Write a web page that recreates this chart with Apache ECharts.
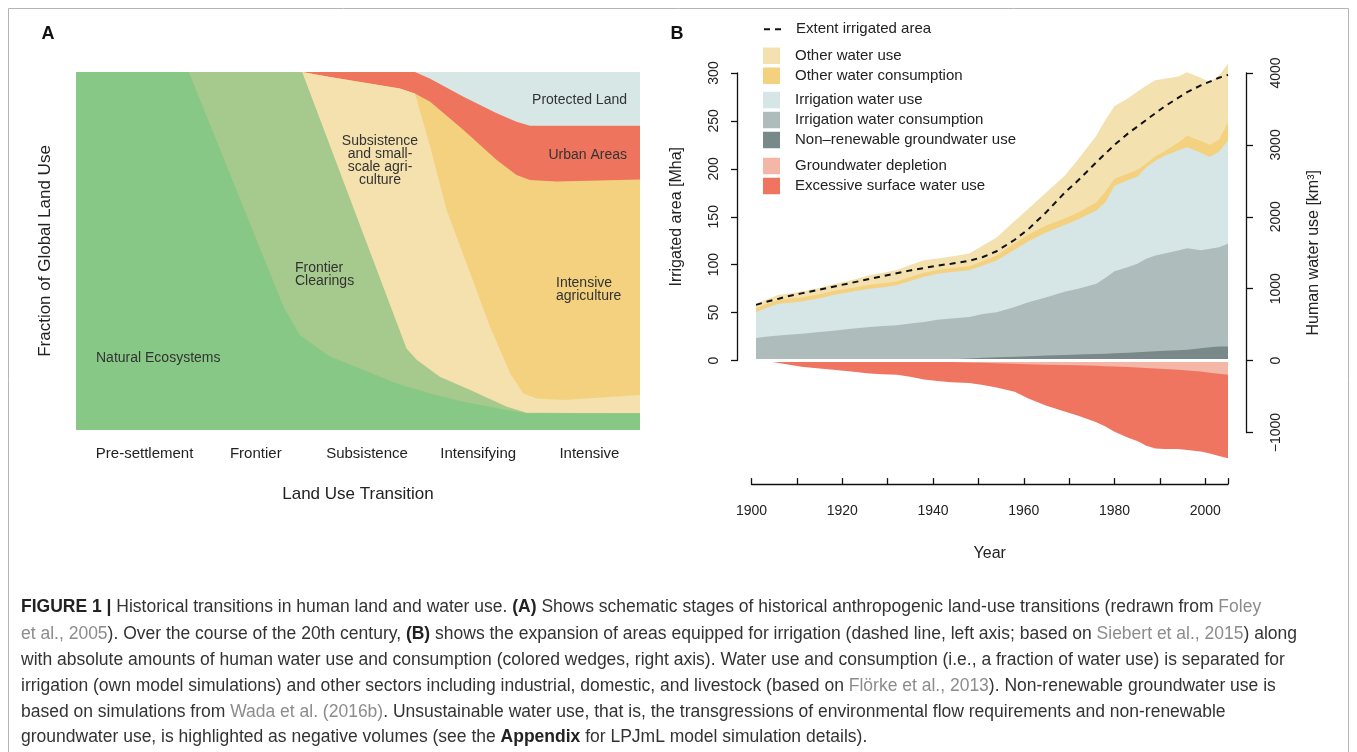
<!DOCTYPE html>
<html>
<head>
<meta charset="utf-8">
<title>Historical transitions in human land and water use</title>
<script src="https://cdn.jsdelivr.net/npm/echarts@6.0.0/dist/echarts.min.js"></script>
<style>
    html, body { margin: 0; padding: 0; background: #fff; }
    #chart { width: 1357px; height: 752px; }
</style>
</head>
<body>
<div id="chart"></div>
<script>
// Panel A: schematic land use stages (fraction of global land, top edge of each layer)
const STAGES = ['Pre-settlement', 'Frontier', 'Subsistence', 'Intensifying', 'Intensive'];
const PROTECTED_TOP = [[0, 1], [1, 1]];
const URBAN_TOP = [[0, 1], [0.601, 1], [0.628, 0.981], [0.687, 0.931], [0.746, 0.885], [0.781, 0.861], [0.805, 0.85], [1, 0.85]];
const INTENSIVE_TOP = [[0, 1], [0.401, 1], [0.45, 0.986], [0.574, 0.954], [0.601, 0.94], [0.628, 0.917], [0.687, 0.838], [0.746, 0.754], [0.781, 0.712], [0.805, 0.698], [0.852, 0.694], [1, 0.7]];
const SUBSISTENCE_TOP = [[0, 1], [0.401, 1], [0.45, 0.986], [0.574, 0.954], [0.601, 0.94], [0.628, 0.791], [0.657, 0.615], [0.699, 0.438], [0.734, 0.289], [0.77, 0.158], [0.793, 0.102], [0.817, 0.088], [0.864, 0.084], [1, 0.098]];
const FRONTIER_TOP = [[0, 1], [0.401, 1], [0.586, 0.228], [0.604, 0.196], [0.645, 0.149], [0.699, 0.112], [0.764, 0.065], [0.799, 0.048], [1, 0.047]];
const NATURAL_TOP = [[0, 1], [0.2, 1], [0.368, 0.344], [0.397, 0.265], [0.45, 0.205], [0.509, 0.168], [0.569, 0.13], [0.628, 0.102], [0.687, 0.079], [0.764, 0.056], [0.799, 0.047], [1, 0.047]];

// Panel B: years, irrigated area [Mha] and water use wedges [km3] (upper edge of each wedge)
const YEARS = [1901, 1903, 1906, 1908, 1911, 1915, 1918, 1922, 1926, 1929, 1932, 1935, 1938, 1941, 1944, 1948, 1951, 1954, 1958, 1961, 1965, 1969, 1972, 1976, 1978, 1980, 1983, 1985, 1987, 1989, 1991, 1994, 1996, 1999, 2001, 2003, 2005];
const IRRIGATED_AREA = [58, 61, 64.5, 67, 70, 74, 77, 81, 85, 88, 91, 94, 96.5, 99, 101, 104, 108, 114, 126, 137, 155, 175, 188, 207, 216, 225, 237, 244, 251, 258, 265, 274, 280, 287, 291, 295, 298];
const OTHER_USE = [788, 840, 913, 930, 960, 1010, 1060, 1115, 1185, 1220, 1260, 1330, 1395, 1420, 1445, 1490, 1600, 1710, 1940, 2110, 2340, 2570, 2800, 3130, 3350, 3540, 3650, 3740, 3825, 3900, 3920, 3950, 4010, 3935, 3870, 3960, 4130];
const OTHER_CONS = [727, 780, 843, 858, 875, 920, 965, 1010, 1055, 1075, 1100, 1160, 1220, 1260, 1288, 1310, 1385, 1460, 1630, 1750, 1880, 1975, 2060, 2200, 2350, 2530, 2600, 2650, 2740, 2840, 2910, 3030, 3125, 3055, 3000, 3070, 3310];
const IRRIG_USE = [672, 725, 788, 800, 820, 865, 910, 955, 998, 1020, 1045, 1105, 1165, 1205, 1232, 1255, 1321, 1390, 1540, 1660, 1785, 1885, 1965, 2086, 2200, 2430, 2510, 2555, 2690, 2780, 2850, 2920, 2965, 2890, 2830, 2905, 3060];
const IRRIG_CONS = [311, 330, 348, 358, 371, 395, 415, 440, 465, 478, 490, 513, 537, 565, 585, 605, 645, 672, 745, 810, 880, 955, 997, 1066, 1150, 1240, 1300, 1345, 1414, 1460, 1490, 1530, 1560, 1535, 1553, 1575, 1625];
const NONRENEW_GW = [0, 0, 1, 1, 2, 2, 3, 4, 5, 6, 7, 8, 10, 14, 18, 28, 38, 45, 52, 58, 68, 76, 82, 90, 95, 100, 108, 115, 122, 130, 135, 142, 150, 170, 185, 195, 195];
const EXCESS_SURFACE = [0, -3, -35, -55, -86, -110, -130, -155, -180, -190, -200, -225, -265, -285, -304, -315, -340, -375, -434, -530, -630, -710, -770, -860, -920, -990, -1075, -1120, -1185, -1225, -1231, -1232, -1245, -1268, -1295, -1330, -1360];
const GW_DEPLETION = [-6, -6, -6, -7, -7, -8, -9, -10, -11, -12, -13, -15, -17, -19, -22, -27, -33, -40, -47, -52, -58, -64, -68, -75, -80, -85, -92, -98, -105, -113, -120, -130, -140, -155, -170, -185, -200];

const FONT = 'Liberation Sans';
const TXT = '#222';

function pairs(values) {
    return YEARS.map((y, i) => [y, values[i]]);
}

// Filled layer for panel A
function landLayer(name, data, color) {
    return {
        name: name, type: 'line', xAxisIndex: 0, yAxisIndex: 0,
        data: data, symbol: 'none', silent: true,
        lineStyle: { width: 0 }, itemStyle: { color: color },
        areaStyle: { color: color, opacity: 1 }
    };
}

// Filled wedge for panel B (km3 axis)
function waterLayer(name, values, color) {
    return {
        name: name, type: 'line', xAxisIndex: 2, yAxisIndex: 2,
        data: pairs(values), symbol: 'none', silent: true,
        lineStyle: { width: 0 }, itemStyle: { color: color },
        areaStyle: { color: color, opacity: 1 }
    };
}

const COLORS = {
    otherUse: '#f4e1b0', otherCons: '#f3d17f', irrUse: '#d6e6e6', irrCons: '#aebdbc',
    nonRenew: '#79898a', depletion: '#f4b6a6', excess: '#ef7560'
};

function squareItem(name, color) {
    return { name: name, icon: 'rect', itemStyle: { color: color, borderWidth: 0 } };
}

function legendBlock(top, items) {
    return {
        orient: 'vertical', left: 763, top: top, itemWidth: 17, itemHeight: 16.5, itemGap: 3.5,
        selectedMode: false, padding: 0,
        textStyle: { fontFamily: FONT, fontSize: 15, color: TXT, padding: [0, 0, 0, 10] },
        data: items
    };
}

function captionLine(y, text) {
    return {
        type: 'text', x: 21, y: y, silent: true,
        style: {
            text: text, fontFamily: FONT, fontSize: 17.5, fill: '#333', verticalAlign: 'middle',
            rich: {
                b: { fontFamily: FONT, fontSize: 17.5, fontWeight: 'bold', fill: '#222' },
                g: { fontFamily: FONT, fontSize: 17.5, fill: '#8c8c8c' }
            }
        }
    };
}

function note(x, y, text, align) {
    return {
        type: 'text', x: x, y: y, silent: true, z: 10,
        style: { text: text, fontFamily: FONT, fontSize: 14, fill: '#333', align: align, verticalAlign: 'middle', lineHeight: 13 }
    };
}

const chart = echarts.init(document.getElementById('chart'));

const option = {
    animation: false,
    backgroundColor: '#fff',
    grid: [
        { left: 76, top: 72, width: 564, height: 358 },
        { left: 89, top: 72, width: 556, height: 358 },
        { left: 751.5, top: 58.6, width: 476.5, height: 402.5 },
        { left: 751.5, top: 73, width: 476.5, height: 287.5 },
        { left: 751.5, top: 73, width: 476.5, height: 359.5 }
    ],
    xAxis: [
        {
            gridIndex: 0, type: 'value', min: 0, max: 1,
            axisLine: { show: false }, axisTick: { show: false }, axisLabel: { show: false }, splitLine: { show: false },
            name: 'Land Use Transition', nameLocation: 'middle', nameGap: 56,
            nameTextStyle: { fontFamily: FONT, fontSize: 17, color: TXT }
        },
        {
            gridIndex: 1, type: 'category', data: STAGES,
            axisLine: { show: false }, axisTick: { show: false }, splitLine: { show: false },
            axisLabel: { interval: 0, fontFamily: FONT, fontSize: 15, color: TXT, margin: 16 }
        },
        {
            gridIndex: 2, type: 'value', min: 1900, max: 2005, interval: 10, offset: 23,
            axisLine: { show: true, onZero: false, lineStyle: { color: '#111', width: 1.3 } },
            axisTick: { show: true, inside: true, length: 6, lineStyle: { color: '#111', width: 1.3 } },
            axisLabel: {
                fontFamily: FONT, fontSize: 14, color: TXT, margin: 20,
                formatter: v => (v % 20 === 0 ? String(v) : '')
            },
            splitLine: { show: false },
            name: 'Year', nameLocation: 'middle', nameGap: 61,
            nameTextStyle: { fontFamily: FONT, fontSize: 16, color: TXT }
        },
        { gridIndex: 3, type: 'value', min: 1900, max: 2005, show: false },
        { gridIndex: 4, type: 'value', min: 1900, max: 2005, show: false }
    ],
    yAxis: [
        {
            gridIndex: 0, type: 'value', min: 0, max: 1,
            axisLine: { show: false }, axisTick: { show: false }, axisLabel: { show: false }, splitLine: { show: false },
            name: 'Fraction of Global Land Use', nameLocation: 'middle', nameGap: 22, nameRotate: 90,
            nameTextStyle: { fontFamily: FONT, fontSize: 17, color: TXT }
        },
        { gridIndex: 1, type: 'value', min: 0, max: 1, show: false },
        { gridIndex: 2, type: 'value', min: -1400, max: 4200, show: false },
        { gridIndex: 2, type: 'value', min: -105, max: 315, show: false },
        {
            gridIndex: 3, type: 'value', min: 0, max: 300, interval: 50, position: 'left', offset: 14.5,
            axisLine: { show: true, lineStyle: { color: '#111', width: 1.3 } },
            axisTick: { show: true, length: 6, lineStyle: { color: '#111', width: 1.3 } },
            axisLabel: { rotate: 90, fontFamily: FONT, fontSize: 14, color: TXT, margin: 16 },
            splitLine: { show: false },
            name: 'Irrigated area [Mha]', nameLocation: 'middle', nameGap: 52, nameRotate: 90,
            nameTextStyle: { fontFamily: FONT, fontSize: 16, color: TXT }
        },
        {
            gridIndex: 4, type: 'value', min: -1000, max: 4000, interval: 1000, position: 'right', offset: 18,
            axisLine: { show: true, lineStyle: { color: '#111', width: 1.3 } },
            axisTick: { show: true, length: 7, lineStyle: { color: '#111', width: 1.3 } },
            axisLabel: { rotate: 90, fontFamily: FONT, fontSize: 14, color: TXT, margin: 23,
                formatter: v => String(v).replace('-', '\u2212') },
            splitLine: { show: false },
            name: 'Human water use [km\u00b3]', nameLocation: 'middle', nameGap: 60, nameRotate: 90,
            nameTextStyle: { fontFamily: FONT, fontSize: 16, color: TXT }
        }
    ],
    legend: [
        legendBlock(21.75, [{
            name: 'Extent irrigated area',
            itemStyle: { opacity: 0 },
            lineStyle: { color: '#111', width: 2, type: [6, 5] }
        }]),
        legendBlock(47.5, [squareItem('Other water use', COLORS.otherUse), squareItem('Other water consumption', COLORS.otherCons)]),
        legendBlock(91.75, [squareItem('Irrigation water use', COLORS.irrUse), squareItem('Irrigation water consumption', COLORS.irrCons),
            squareItem('Non\u2013renewable groundwater use', COLORS.nonRenew)]),
        legendBlock(157.75, [squareItem('Groundwater depletion', COLORS.depletion), squareItem('Excessive surface water use', COLORS.excess)])
    ],
    series: [
        landLayer('Protected Land', PROTECTED_TOP, '#d6e7e6'),
        landLayer('Urban Areas', URBAN_TOP, '#ef745e'),
        landLayer('Intensive agriculture', INTENSIVE_TOP, '#f3d17e'),
        landLayer('Subsistence', SUBSISTENCE_TOP, '#f4e1ae'),
        landLayer('Frontier Clearings', FRONTIER_TOP, '#a6c98e'),
        landLayer('Natural Ecosystems', NATURAL_TOP, '#88c886'),

        waterLayer('Other water use', OTHER_USE, COLORS.otherUse),
        waterLayer('Other water consumption', OTHER_CONS, COLORS.otherCons),
        waterLayer('Irrigation water use', IRRIG_USE, COLORS.irrUse),
        waterLayer('Irrigation water consumption', IRRIG_CONS, COLORS.irrCons),
        waterLayer('Non\u2013renewable groundwater use', NONRENEW_GW, COLORS.nonRenew),
        waterLayer('Excessive surface water use', EXCESS_SURFACE, COLORS.excess),
        Object.assign(waterLayer('Groundwater depletion', GW_DEPLETION, COLORS.depletion), {
            markLine: {
                silent: true, symbol: 'none', label: { show: false },
                lineStyle: { color: '#fff', width: 3, type: 'solid' },
                data: [{ yAxis: 0 }]
            }
        }),
        {
            name: 'Extent irrigated area', type: 'line', xAxisIndex: 2, yAxisIndex: 3,
            data: pairs(IRRIGATED_AREA), symbol: 'none', showSymbol: false, silent: true,
            itemStyle: { color: '#111' },
            lineStyle: { color: '#111', width: 2, type: [6, 5] }
        }
    ],
    graphic: [
        { type: 'rect', silent: true, shape: { x: 8.5, y: 8.5, width: 1340, height: 800 }, style: { fill: 'none', stroke: '#b4b4b4', lineWidth: 1 } },
        { type: 'text', x: 48, y: 34, silent: true, style: { text: 'A', fontFamily: FONT, fontSize: 18, fontWeight: 'bold', fill: '#111', align: 'center', verticalAlign: 'middle' } },
        { type: 'text', x: 677, y: 34, silent: true, style: { text: 'B', fontFamily: FONT, fontSize: 18, fontWeight: 'bold', fill: '#111', align: 'center', verticalAlign: 'middle' } },
        note(96, 358, 'Natural Ecosystems', 'left'),
        note(295, 275, 'Frontier\nClearings', 'left'),
        note(380, 161, 'Subsistence\nand small-\nscale agri-\nculture', 'center'),
        note(627, 100, 'Protected Land', 'right'),
        note(627, 155, 'Urban Areas', 'right'),
        note(556, 290, 'Intensive\nagriculture', 'left'),
        captionLine(607, '{b|FIGURE 1 |} Historical transitions in human land and water use. {b|(A)} Shows schematic stages of historical anthropogenic land-use transitions (redrawn from {g|Foley}'),
        captionLine(634, '{g|et al., 2005}). Over the course of the 20th century, {b|(B)} shows the expansion of areas equipped for irrigation (dashed line, left axis; based on {g|Siebert et al., 2015}) along'),
        captionLine(660, 'with absolute amounts of human water use and consumption (colored wedges, right axis). Water use and consumption (i.e., a fraction of water use) is separated for'),
        captionLine(686, 'irrigation (own model simulations) and other sectors including industrial, domestic, and livestock (based on {g|Fl\u00f6rke et al., 2013}). Non-renewable groundwater use is'),
        captionLine(712, 'based on simulations from {g|Wada et al. (2016b)}. Unsustainable water use, that is, the transgressions of environmental flow requirements and non-renewable'),
        captionLine(737, 'groundwater use, is highlighted as negative volumes (see the {b|Appendix} for LPJmL model simulation details).')
    ]
};

chart.setOption(option);
</script>
</body>
</html>
